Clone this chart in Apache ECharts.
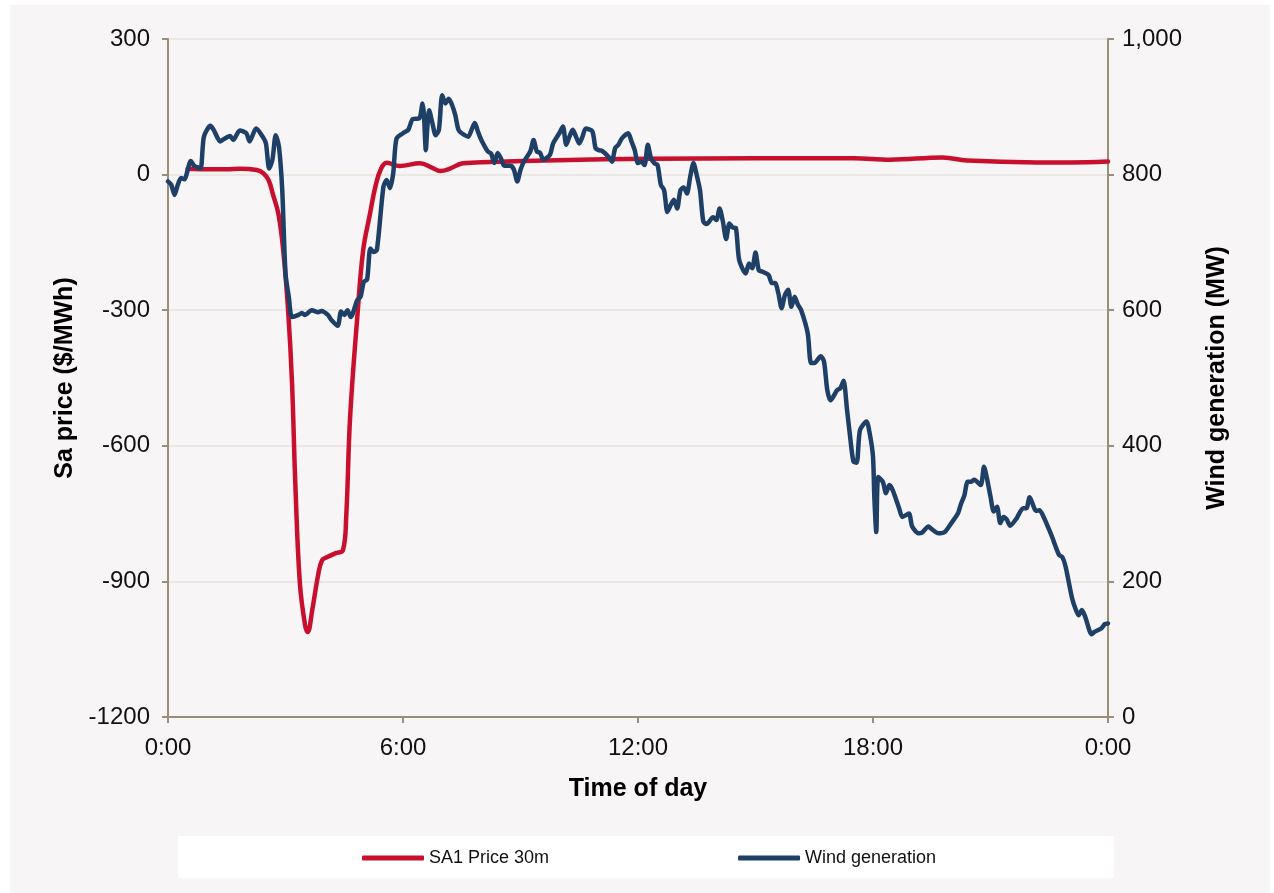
<!DOCTYPE html>
<html>
<head>
<meta charset="utf-8">
<title>SA price and wind generation</title>
<script src="https://cdn.jsdelivr.net/npm/echarts@6/dist/echarts.min.js"></script>
<style>
  html, body { margin: 0; padding: 0; background: #ffffff; }
  #wrap { position: relative; width: 1274px; height: 893px; overflow: hidden; }
  #panel { position: absolute; left: 10px; top: 5px; width: 1260px; height: 888px; background: #f7f5f6; }
  #legendBox { position: absolute; left: 178px; top: 836px; width: 936px; height: 42px; background: #ffffff; }
  #chart { position: absolute; left: 0; top: 0; width: 1274px; height: 893px; }
</style>
</head>
<body>
<div id="wrap">
  <div id="panel"></div>
  <div id="legendBox"></div>
  <div id="chart"></div>
</div>
<script>
// Time of day is in minutes after midnight.
const priceMinutes = [30, 60, 90, 110, 136, 146, 154, 161, 169, 176, 184, 190, 195, 202, 210, 214, 221, 230, 236, 244, 256, 268, 273, 279, 290, 299, 309, 318, 326, 335, 355, 386, 405, 417, 430, 452, 493, 596, 738, 900, 1050, 1106, 1187, 1224, 1331, 1382, 1440];
const priceValues  = [13, 12, 12, 13, 10, 3, -12, -45, -86, -160, -300, -461, -682, -904, -997, -1012, -963, -886, -853, -846, -838, -831, -757, -536, -315, -167, -90, -25, 12, 26, 19, 25, 15, 8, 12, 25, 28, 32, 35, 36, 36, 33, 38, 31, 27, 27, 29];

const windMinutes = [0, 5, 10, 15, 20, 25, 35, 40, 45, 50, 55, 65, 70, 80, 85, 95, 100, 110, 120, 125, 135, 145, 150, 155, 160, 165, 170, 175, 180, 185, 190, 200, 205, 210, 220, 230, 235, 245, 250, 260, 265, 270, 275, 280, 290, 295, 300, 305, 310, 315, 320, 330, 335, 340, 345, 350, 360, 368, 375, 385, 390, 392, 395, 397, 400, 405, 410, 415, 420, 425, 430, 435, 440, 445, 450, 460, 465, 470, 475, 480, 490, 495, 500, 505, 510, 515, 525, 530, 535, 540, 545, 555, 560, 565, 570, 575, 585, 590, 600, 605, 610, 615, 620, 625, 630, 635, 640, 650, 655, 660, 665, 675, 680, 685, 690, 695, 705, 710, 715, 720, 725, 730, 735, 740, 745, 750, 755, 760, 765, 770, 775, 780, 785, 790, 795, 800, 805, 810, 815, 820, 825, 835, 840, 845, 850, 855, 860, 865, 870, 875, 885, 890, 895, 900, 905, 910, 920, 925, 930, 935, 940, 945, 950, 955, 960, 965, 970, 980, 985, 990, 1000, 1005, 1010, 1015, 1025, 1030, 1035, 1040, 1045, 1050, 1055, 1060, 1070, 1075, 1080, 1082, 1085, 1088, 1095, 1100, 1105, 1110, 1120, 1125, 1135, 1140, 1150, 1155, 1165, 1170, 1180, 1190, 1200, 1210, 1215, 1220, 1225, 1230, 1235, 1245, 1250, 1255, 1260, 1265, 1270, 1275, 1280, 1285, 1290, 1300, 1310, 1315, 1320, 1330, 1335, 1340, 1350, 1355, 1365, 1370, 1375, 1385, 1390, 1395, 1400, 1405, 1415, 1420, 1430, 1435, 1440];
const windMW = [790, 785, 770, 785, 795, 793, 820, 813, 811, 809, 856, 872, 866, 849, 852, 857, 851, 865, 861, 849, 868, 856, 846, 809, 822, 858, 841, 777, 654, 620, 590, 593, 596, 593, 600, 597, 599, 593, 586, 577, 598, 593, 600, 590, 615, 620, 642, 645, 691, 686, 689, 782, 792, 780, 802, 853, 861, 866, 882, 883, 905, 890, 836, 866, 895, 876, 858, 866, 917, 905, 912, 903, 888, 866, 861, 856, 866, 876, 863, 851, 834, 831, 817, 832, 824, 813, 813, 807, 790, 807, 819, 834, 851, 834, 832, 822, 829, 846, 862, 871, 844, 856, 866, 856, 846, 856, 868, 864, 839, 836, 835, 826, 819, 839, 844, 853, 861, 849, 836, 817, 819, 814, 844, 824, 817, 814, 785, 777, 745, 755, 763, 750, 777, 781, 772, 797, 817, 799, 777, 731, 727, 737, 733, 750, 731, 705, 728, 722, 721, 674, 654, 669, 662, 685, 659, 657, 652, 640, 640, 625, 603, 622, 630, 605, 620, 608, 600, 566, 522, 522, 532, 524, 482, 467, 482, 485, 496, 455, 413, 377, 375, 423, 436, 418, 384, 325, 273, 354, 347, 330, 342, 335, 308, 295, 300, 281, 271, 272, 281, 277, 271, 273, 286, 300, 315, 327, 347, 347, 350, 342, 369, 350, 325, 303, 310, 286, 295, 291, 282, 293, 308, 308, 324, 304, 305, 298, 276, 264, 239, 236, 222, 175, 160, 150, 158, 148, 122, 126, 131, 137, 138];

const timeTicks = [0, 360, 720, 1080, 1440];
const timeTickLabels = ['0:00', '6:00', '12:00', '18:00', '0:00'];

const FONT = '"Liberation Sans", Arial, sans-serif';
const AXIS_COLOR = '#9b8e79';
const GRID_COLOR = '#ebe8e3';
const PRICE_COLOR = '#c8102e';
const WIND_COLOR = '#1e3f66';

const pair = (xs, ys) => xs.map((x, i) => [x, ys[i]]);

const chart = echarts.init(document.getElementById('chart'), null, { renderer: 'canvas' });

chart.setOption({
  backgroundColor: 'transparent',
  animation: false,
  textStyle: { fontFamily: FONT },
  grid: { left: 168, right: 166, top: 39, bottom: 176, containLabel: false },
  legend: {
    data: [
      { name: 'SA1 Price 30m', icon: 'roundRect', itemStyle: { color: PRICE_COLOR } },
      { name: 'Wind generation', icon: 'roundRect', itemStyle: { color: WIND_COLOR } }
    ],
    left: 362,
    top: 849,
    padding: 0,
    itemWidth: 62,
    itemHeight: 5,
    itemGap: 189,
    textStyle: { fontSize: 18, color: '#111111', fontFamily: FONT }
  },
  xAxis: {
    type: 'value',
    min: 0,
    max: 1440,
    interval: 360,
    name: 'Time of day',
    nameLocation: 'middle',
    nameGap: 60,
    nameTextStyle: { fontSize: 25, fontWeight: 'bold', color: '#000000', fontFamily: FONT },
    axisLine: { show: true, onZero: false, lineStyle: { color: AXIS_COLOR, width: 2 } },
    axisTick: { show: true, length: 6, lineStyle: { color: AXIS_COLOR, width: 2 } },
    axisLabel: {
      fontSize: 24,
      color: '#111111',
      margin: 19,
      fontFamily: FONT,
      formatter: v => {
        const i = timeTicks.indexOf(v);
        return i >= 0 ? timeTickLabels[i] : '';
      }
    },
    splitLine: { show: false }
  },
  yAxis: [
    {
      type: 'value',
      position: 'left',
      min: -1200,
      max: 300,
      interval: 300,
      name: 'Sa price ($/MWh)',
      nameLocation: 'middle',
      nameRotate: 90,
      nameGap: 86,
      nameTextStyle: { fontSize: 25, fontWeight: 'bold', color: '#000000', fontFamily: FONT },
      axisLine: { show: true, onZero: false, lineStyle: { color: AXIS_COLOR, width: 2 } },
      axisTick: { show: true, length: 6, lineStyle: { color: AXIS_COLOR, width: 2 } },
      axisLabel: { fontSize: 24, color: '#111111', margin: 18, fontFamily: FONT, formatter: v => String(v) },
      splitLine: { show: true, lineStyle: { color: GRID_COLOR, width: 2 } }
    },
    {
      type: 'value',
      position: 'right',
      min: 0,
      max: 1000,
      interval: 200,
      name: 'Wind generation (MW)',
      nameLocation: 'middle',
      nameRotate: 90,
      nameGap: 97,
      nameTextStyle: { fontSize: 25, fontWeight: 'bold', color: '#000000', fontFamily: FONT },
      axisLine: { show: true, onZero: false, lineStyle: { color: AXIS_COLOR, width: 2 } },
      axisTick: { show: true, length: 6, lineStyle: { color: AXIS_COLOR, width: 2 } },
      axisLabel: {
        fontSize: 24, color: '#111111', margin: 14, fontFamily: FONT,
        formatter: v => v.toLocaleString('en-US')
      },
      splitLine: { show: false }
    }
  ],
  series: [
    {
      name: 'SA1 Price 30m',
      type: 'line',
      yAxisIndex: 0,
      data: pair(priceMinutes, priceValues),
      showSymbol: false,
      symbol: 'none',
      smooth: 0.4,
      lineStyle: { color: PRICE_COLOR, width: 4.5, cap: 'round', join: 'round' },
      itemStyle: { color: PRICE_COLOR },
      z: 2
    },
    {
      name: 'Wind generation',
      type: 'line',
      yAxisIndex: 1,
      data: pair(windMinutes, windMW),
      showSymbol: false,
      symbol: 'none',
      smooth: 0.25,
      lineStyle: { color: WIND_COLOR, width: 4.5, cap: 'round', join: 'round' },
      itemStyle: { color: WIND_COLOR },
      z: 3
    }
  ]
});
</script>
</body>
</html>
